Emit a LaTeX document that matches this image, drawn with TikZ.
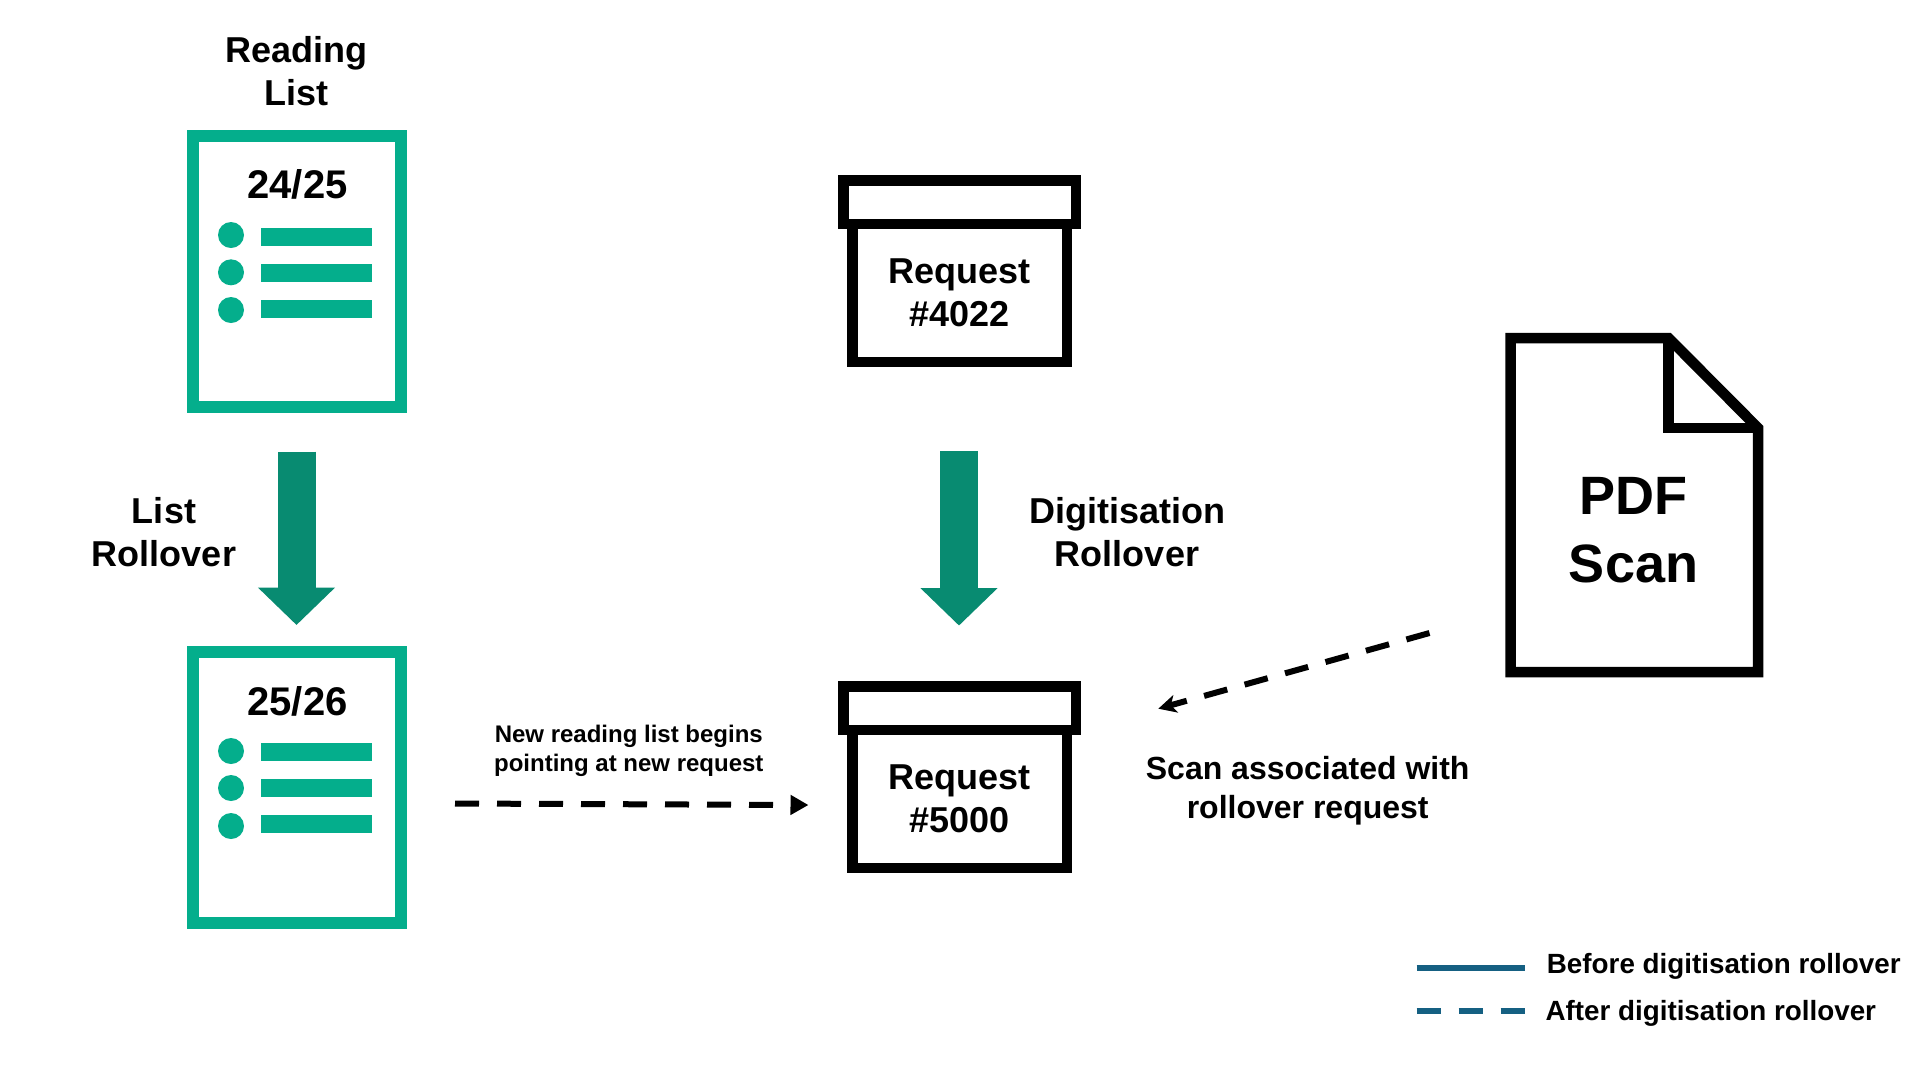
\documentclass[tikz,border=0pt]{standalone}
\usepackage{fontspec}
\setmainfont{Liberation Sans}
\usetikzlibrary{positioning}
\usetikzlibrary{arrows.meta}
\definecolor{listgreen}{HTML}{04AE8C}
\definecolor{rollgreen}{HTML}{088B71}
\definecolor{legendblue}{HTML}{156082}
\tikzset{listbox/.style={rectangle,draw=listgreen,fill=white,line width=12pt,
inner sep=0pt,minimum width=208pt,minimum height=271pt}}
\tikzset{listdot/.style={circle,fill=listgreen,inner sep=0pt,minimum size=26pt}}
\tikzset{listbar/.style={rectangle,fill=listgreen,inner sep=0pt,minimum width=111pt,minimum height=18pt}}
\tikzset{reqbody/.style={rectangle,draw=black,fill=white,line width=10.5pt,align=center,
inner sep=0pt,minimum width=214.5pt,minimum height=138pt,font=\fontsize{36}{43}\selectfont\bfseries}}
\tikzset{reqlid/.style={rectangle,draw=black,fill=white,line width=10.5pt,
inner sep=0pt,minimum width=232.5pt,minimum height=43.5pt}}
\tikzset{bigtext/.style={inner sep=0pt,align=center,anchor=base,font=\fontsize{36}{43}\selectfont\bfseries}}
\tikzset{yeartext/.style={inner sep=0pt,anchor=base,font=\fontsize{40}{48}\selectfont\bfseries}}
\tikzset{midtext/.style={inner sep=0pt,align=center,anchor=base,font=\fontsize{32}{39}\selectfont\bfseries}}
\tikzset{smalltext/.style={inner sep=0pt,align=center,anchor=base,font=\fontsize{24}{29.5}\selectfont\bfseries}}
\tikzset{legendtext/.style={inner sep=0pt,anchor=base west,font=\fontsize{27.8}{34}\selectfont\bfseries}}
\tikzset{rollarrow/.style={draw=rollgreen,line width=38pt,-{Triangle[length=37.5pt,width=75pt]}}}
\tikzset{afterarrow/.style={draw=black,line width=6pt,dash pattern=on 24pt off 18pt}}
\tikzset{legendline/.style={draw=legendblue,line width=6pt}}

\begin{document}
\begin{tikzpicture}[x=1pt,y=-1pt]

        \useasboundingbox (0,0) rectangle (1920,1080);

        % reading lists
        \node[bigtext] (listName) at (296.5,105.7) {Reading\\List};
        \node[listbox] (listA) at (297,271.5) {};
        \node[listbox] (listB) at (297,787.5) {};

        \node[yeartext] (listAyear) at ([yshift=73.2pt,xshift=0.5pt]listA) {24/25};
        \node[listdot] (dotA1) at ([yshift=36.5pt,xshift=-66pt]listA) {};
        \node[listdot] (dotA2) at ([yshift=-0.8pt,xshift=-66pt]listA) {};
        \node[listdot] (dotA3) at ([yshift=-38.5pt,xshift=-66pt]listA) {};
        \node[listbar] (barA1) at ([yshift=34.5pt,xshift=19pt]listA) {};
        \node[listbar] (barA2) at ([yshift=-1.5pt,xshift=19pt]listA) {};
        \node[listbar] (barA3) at ([yshift=-37.5pt,xshift=19pt]listA) {};

        \node[yeartext] (listByear) at ([yshift=72.5pt,xshift=0.5pt]listB) {25/26};
        \node[listdot] (dotB1) at ([yshift=36.5pt,xshift=-66pt]listB) {};
        \node[listdot] (dotB2) at ([yshift=-0.5pt,xshift=-66pt]listB) {};
        \node[listdot] (dotB3) at ([yshift=-38.5pt,xshift=-66pt]listB) {};
        \node[listbar] (barB1) at ([yshift=35.5pt,xshift=19pt]listB) {};
        \node[listbar] (barB2) at ([yshift=-0.5pt,xshift=19pt]listB) {};
        \node[listbar] (barB3) at ([yshift=-36.5pt,xshift=19pt]listB) {};

        % requests
        \node[reqbody] (reqA) at (959.75,293) {Request\\\#4022};
        \node[reqlid] (lidA) [above=-10.5pt of reqA] {};
        \node[reqbody] (reqB) at (959.75,799) {Request\\\#5000};
        \node[reqlid] (lidB) [above=-10.5pt of reqB] {};

        % rollover arrows
        \coordinate (rollAtop) at ([yshift=-38.5pt,xshift=-0.5pt]listA.south);
        \coordinate (rollAend) at ([yshift=21pt,xshift=-0.5pt]listB.north);
        \draw [rollarrow] (rollAtop) -- (rollAend);
        \node[bigtext] (listRoll) at (164,566.7) {List\\Rollover};

        \coordinate (rollBtop) at ([yshift=-83.7pt,xshift=-0.75pt]reqA.south);
        \coordinate (rollBend) at ([yshift=55.7pt,xshift=-0.75pt]lidB.north);
        \draw [rollarrow] (rollBtop) -- (rollBend);
        \node[bigtext] (reqRoll) at (1127,566.7) {Digitisation\\Rollover};

        % scan
        \draw [line width=10.5pt] (1510.5,338) -- (1668.5,338) -- (1758,428) -- (1758,672) -- (1510.5,672) -- cycle;
        \draw [line width=10.5pt] (1668.5,338) -- (1668.5,428) -- (1758,428);
        \node[inner sep=0pt,align=center,anchor=base,font=\fontsize{54}{68}\selectfont\bfseries] (pdfName) at (1633.5,582.7) {PDF\\Scan};

        % after rollover
        \coordinate (newS) at (455,803.5);
        \coordinate (newE) at (808.5,805);
        \draw [afterarrow,-{Triangle[length=18pt,width=19pt]}] (newS) -- (newE);
        \node[smalltext] (newText) at (628.8,771.7) {New reading list begins\\pointing at new request};

        \coordinate (scanS) at (1429.5,633);
        \coordinate (scanE) at (1158.3,708.7);
        \draw [afterarrow,-{Stealth[length=18pt,width=18pt,inset=5pt]}] (scanS) -- (scanE);
        \node[midtext] (scanText) at (1307.7,818.3) {Scan associated with\\rollover request};

        % legend
        \node[legendtext] (legA) at (1546.7,973) {Before digitisation rollover};
        \node[legendtext] (legB) at (1545.3,1020.7) {After digitisation rollover};
        \coordinate (legAs) at (1416.7,967.7);
        \coordinate (legAe) at (1525,967.7);
        \coordinate (legBs) at (1416.7,1011);
        \coordinate (legBe) at (1525,1011);
        \draw [legendline] (legAs) -- (legAe);
        \draw [legendline,dash pattern=on 24pt off 18pt] (legBs) -- (legBe);

    \end{tikzpicture}
\end{document}
